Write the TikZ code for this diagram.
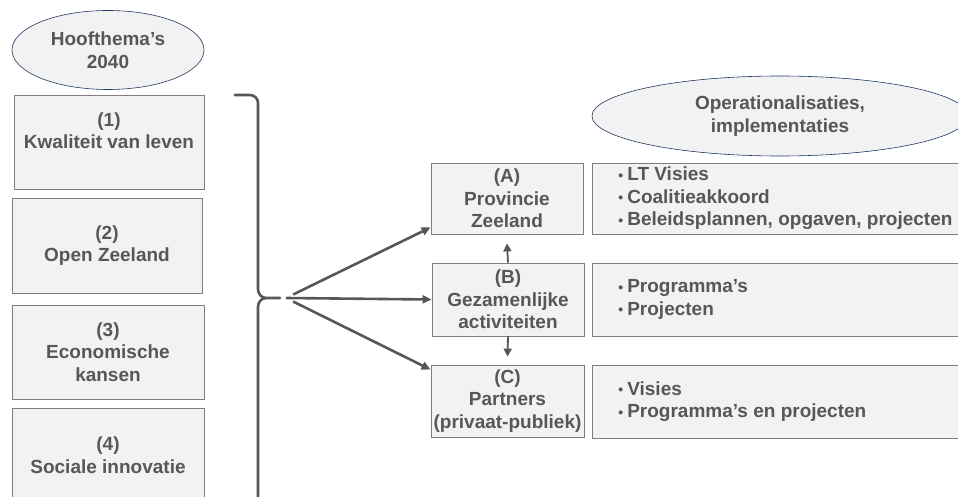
\documentclass[tikz,border=0pt]{standalone}
\usepackage{fontspec}
\setmainfont{Liberation Sans}
\usetikzlibrary{arrows.meta,shapes.geometric}

\definecolor{ink}{HTML}{575757}
\definecolor{boxfill}{HTML}{F2F2F2}
\definecolor{boxline}{HTML}{7F7F7F}
\definecolor{ovalline}{HTML}{203864}

% small bullet followed by its gap
\newcommand{\bul}{\makebox[9pt][l]{\raisebox{0.6pt}{\fontsize{14}{14}\selectfont •}}}

\tikzset{
  txt/.style={font=\fontsize{19}{22.5}\selectfont\bfseries, text=ink},
  themebox/.style={draw=boxline, line width=0.8pt, fill=boxfill, inner sep=0pt,
                   align=center, txt},
  actorbox/.style={themebox},
  outbox/.style={draw=boxline, line width=0.8pt, fill=boxfill, inner sep=0pt},
  outtext/.style={txt, anchor=west, align=left, inner sep=0pt},
  oval/.style={ellipse, draw=ovalline, line width=0.6pt, fill=boxfill, inner sep=0pt,
               align=center, txt},
  fanarrow/.style={draw=ink, line width=2.6pt, -{Triangle[length=9pt,width=8pt]}},
  linkarrow/.style={draw=ink, line width=1.8pt, -{Triangle[length=8pt,width=8pt]}},
  bracket/.style={draw=ink, line width=2.6pt, line cap=round},
}

\begin{document}
\begin{tikzpicture}[x=1pt,y=-1pt]
  \path[use as bounding box, clip] (0,0) rectangle (958,497);

  % headings
  \node[oval, minimum width=192pt, minimum height=79pt] (themes) at (108,50)
    {Hoofthema’s\\2040};
  \node[oval, minimum width=376pt, minimum height=80pt] (ops) at (780,116)
    {Operationalisaties,\\implementaties};

  % main themes
  \node[themebox, minimum width=190pt, minimum height=94pt] (t1) at (109,142)
    {(1)\\Kwaliteit van leven\\\mbox{}};
  \node[themebox, minimum width=190pt, minimum height=95pt] (t2) at (107,245.5)
    {(2)\\Open Zeeland};
  \node[themebox, minimum width=192pt, minimum height=94pt] (t3) at (108,352)
    {(3)\\Economische\\kansen};
  \node[themebox, minimum width=192pt, minimum height=94pt] (t4) at (108,455)
    {(4)\\Sociale innovatie};

  % curly bracket grouping the themes
  \draw[bracket] (235,95) -- (250,95) to[out=0,in=90] (258,103) -- (258,289)
    to[out=-90,in=180] (266,298) -- (280,298);
  \draw[bracket] (266,298) to[out=180,in=90] (258,307) -- (258,520);
  \coordinate (fan) at (286,298);

  % actors
  \node[actorbox, minimum width=152pt, minimum height=71pt] (A) at (507,198.5)
    {(A)\\Provincie\\Zeeland};
  \node[actorbox, minimum width=152pt, minimum height=73pt] (B) at (508,299.5)
    {(B)\\Gezamenlijke\\activiteiten};
  \node[actorbox, minimum width=153pt, minimum height=72pt] (C) at (507.5,401)
    {(C)\\Partners\\(privaat-publiek)};

  % outputs per actor
  \node[outbox, minimum width=376pt, minimum height=71pt] (R1) at (780,198.5) {};
  \node[outbox, minimum width=376pt, minimum height=73pt] (R2) at (780,299.5) {};
  \node[outbox, minimum width=376pt, minimum height=73pt] (R3) at (780,401.5) {};
  \node[outtext] (r1) at ([xshift=26.5pt]R1.west)
    {\bul LT Visies\\\bul Coalitieakkoord\\\bul Beleidsplannen, opgaven, projecten};
  \node[outtext] (r2) at ([xshift=26.5pt]R2.west)
    {\bul Programma’s\\\bul Projecten};
  \node[outtext] (r3) at ([xshift=26.5pt]R3.west)
    {\bul Visies\\\bul Programma’s en projecten};

  % arrows from the bracket to the actors
  \draw[fanarrow, shorten <=8pt] (fan) -- ([yshift=7pt]A.south west);
  \draw[fanarrow] (fan) -- (B.west);
  \draw[fanarrow, shorten <=8pt] (fan) -- ([yshift=-5pt]C.north west);

  % links between the actors
  \draw[linkarrow] (B.north) -- ([yshift=-9pt]A.south);
  \draw[linkarrow] (B.south) -- ([yshift=8pt]C.north);
\end{tikzpicture}
\end{document}
